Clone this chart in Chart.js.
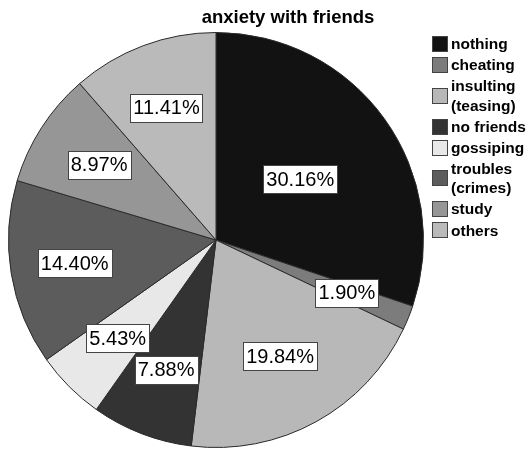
<!DOCTYPE html>
<html>
<head>
<meta charset="utf-8">
<script src="https://cdn.jsdelivr.net/npm/chart.js@4.4.1/dist/chart.umd.min.js"></script>
<style>
  html, body { margin: 0; padding: 0; background: #fff; }
  #pie { display: block; }
</style>
</head>
<body>
<canvas id="pie" width="530" height="450"></canvas>
<script>
var categories = ["nothing", "cheating", ["insulting", "(teasing)"], "no friends", "gossiping", ["troubles", "(crimes)"], "study", "others"];
var percents = [30.16, 1.90, 19.84, 7.88, 5.43, 14.40, 8.97, 11.41];
var sliceColors = ["#121212", "#7c7c7c", "#b8b8b8", "#333333", "#e8e8e8", "#5c5c5c", "#969696", "#bababa"];
// how deep into the slice each value box sits (fraction of radius)
var labelDepth = [0.5, 0.68, 0.64, 0.67, 0.67, 0.69, 0.67, 0.68];

var fontFace = "'Liberation Sans', Arial, sans-serif";

// white boxes with the percentage inside each slice
var valueBoxes = {
  id: "valueBoxes",
  afterDatasetsDraw: function(chart) {
    var ctx = chart.ctx;
    var meta = chart.getDatasetMeta(0);
    ctx.save();
    ctx.font = "20px " + fontFace;
    ctx.textAlign = "center";
    ctx.textBaseline = "middle";
    meta.data.forEach(function(arc, i) {
      var p = arc.getProps(["x", "y", "startAngle", "endAngle", "outerRadius"], true);
      var mid = (p.startAngle + p.endAngle) / 2;
      var r = p.outerRadius * labelDepth[i];
      var cx = p.x + Math.cos(mid) * r;
      var cy = p.y + Math.sin(mid) * r;
      var txt = percents[i].toFixed(2) + "%";
      var w = Math.round(ctx.measureText(txt).width + 6);
      var h = 28;
      var bx = Math.round(cx - w / 2) + 0.5;
      var by = Math.round(cy - h / 2) + 0.5;
      ctx.fillStyle = "#ffffff";
      ctx.fillRect(bx, by, w, h);
      ctx.strokeStyle = "#444444";
      ctx.lineWidth = 1;
      ctx.strokeRect(bx, by, w, h);
      ctx.fillStyle = "#000000";
      ctx.fillText(txt, cx, cy + 1);
    });
    ctx.restore();
  }
};

// title and legend on the right
var sideText = {
  id: "sideText",
  afterDraw: function(chart) {
    var ctx = chart.ctx;
    ctx.save();
    ctx.fillStyle = "#000";
    ctx.font = "bold 18.5px " + fontFace;
    ctx.textAlign = "center";
    ctx.textBaseline = "middle";
    ctx.fillText("anxiety with friends", 288, 18);

    ctx.font = "bold 15.5px " + fontFace;
    ctx.textAlign = "left";
    var lineH = 19.3;
    var y = 45;
    chart.data.labels.forEach(function(lab, i) {
      var lines = Array.isArray(lab) ? lab : [lab];
      var blockMid = y + (lines.length - 1) * lineH / 2;
      ctx.fillStyle = sliceColors[i];
      ctx.fillRect(432, Math.round(blockMid - 9), 15, 15);
      ctx.strokeStyle = "#444";
      ctx.lineWidth = 1;
      ctx.strokeRect(432.5, Math.round(blockMid - 9) + 0.5, 15, 15);
      ctx.fillStyle = "#000";
      lines.forEach(function(t, k) {
        ctx.fillText(t, 451, y + k * lineH);
      });
      y += lines.length * lineH + 1.8;
    });
    ctx.restore();
  }
};

new Chart("pie", {
  type: "pie",
  data: {
    labels: categories,
    datasets: [{
      data: percents,
      backgroundColor: sliceColors,
      borderColor: "#2a2a2a",
      borderWidth: 1
    }]
  },
  options: {
    responsive: false,
    devicePixelRatio: 1,
    animation: false,
    layout: {
      padding: { left: 8, right: 106, top: 31, bottom: 1 }
    },
    plugins: {
      legend: { display: false },
      tooltip: { enabled: false },
      title: { display: false }
    }
  },
  plugins: [valueBoxes, sideText]
});
</script>
</body>
</html>
